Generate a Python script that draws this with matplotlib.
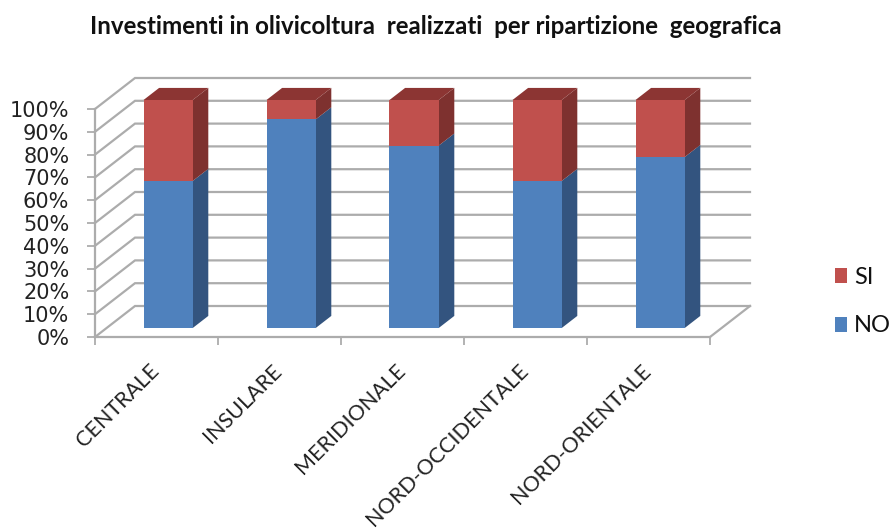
import matplotlib
matplotlib.use('Agg')
import matplotlib.pyplot as plt
from matplotlib.patches import Polygon
from matplotlib.transforms import ScaledTranslation

CATEGORIES = ['CENTRALE', 'INSULARE', 'MERIDIONALE', 'NORD-OCCIDENTALE', 'NORD-ORIENTALE']
NO_VALUES = [64.5, 91.5, 80, 64.5, 75]
SI_VALUES = [35.5, 8.5, 20, 35.5, 25]
Y_TICKS = [0, 10, 20, 30, 40, 50, 60, 70, 80, 90, 100]
TITLE = 'Investimenti in olivicoltura  realizzati  per ripartizione  geografica'

# colours for the front, side and top faces of each stack
BLUE = ('#4f81bd', '#33547f', '#3a5f8e')
RED = ('#c0504d', '#7e312f', '#8c3533')
GRID = '#acacac'

# fake 3D: a point at depth d (0 front, 1 back) is sheared by this much
DEPTH_X = 40 / 123
DEPTH_Y = 31 / 228 * 100
BAR_WIDTH = 0.4
BAR_D0, BAR_D1 = 0.29, 0.68


def project(x, y, d):
    return (x + d * DEPTH_X, y + d * DEPTH_Y)


def draw_segment(ax, x, bottom, top, colours, with_top=False):
    '''
    Draws one piece of a stacked bar as a sheared box.
    '''
    left, right = x - BAR_WIDTH / 2, x + BAR_WIDTH / 2
    # side first, then front so the front edge stays on top
    side = [project(right, bottom, BAR_D0), project(right, top, BAR_D0),
            project(right, top, BAR_D1), project(right, bottom, BAR_D1)]
    ax.add_patch(Polygon(side, facecolor=colours[1], edgecolor='none', zorder=3, clip_on=False))
    front = [project(left, bottom, BAR_D0), project(right, bottom, BAR_D0),
             project(right, top, BAR_D0), project(left, top, BAR_D0)]
    ax.add_patch(Polygon(front, facecolor=colours[0], edgecolor='none', zorder=4, clip_on=False))
    if with_top:
        lid = [project(left, top, BAR_D0), project(right, top, BAR_D0),
               project(right, top, BAR_D1), project(left, top, BAR_D1)]
        ax.add_patch(Polygon(lid, facecolor=colours[2], edgecolor='none', zorder=3, clip_on=False))


fig = plt.figure(figsize=(8.9, 5.29), dpi=100)
ax = fig.add_axes([95 / 890, 1 - 337 / 529, 615 / 890, 228 / 529])
ax.set_xlim(0, len(CATEGORIES))
ax.set_ylim(0, 100)

# walls and floor
for value in Y_TICKS:
    x0, y0 = project(0, value, 0)
    x1, y1 = project(0, value, 1)
    x2, y2 = project(len(CATEGORIES), value, 1)
    ax.plot([x0, x1, x2], [y0, y1, y2], color=GRID, lw=1.6, zorder=1, clip_on=False,
            solid_joinstyle='miter')
x0, y0 = project(len(CATEGORIES), 0, 0)
x1, y1 = project(len(CATEGORIES), 0, 1)
ax.plot([x0, x1], [y0, y1], color=GRID, lw=1.6, zorder=1, clip_on=False)

for index, (no_value, si_value) in enumerate(zip(NO_VALUES, SI_VALUES)):
    center = index + 0.5
    draw_segment(ax, center, 0, no_value, BLUE)
    draw_segment(ax, center, no_value, no_value + si_value, RED, with_top=True)

for name in ('top', 'right'):
    ax.spines[name].set_visible(False)
for name in ('left', 'bottom'):
    ax.spines[name].set_color(GRID)
    ax.spines[name].set_linewidth(1.6)

ax.set_yticks(Y_TICKS)
ax.set_yticklabels([f'{value}%' for value in Y_TICKS], fontsize=15, color='#222222',
                   fontfamily='DejaVu Sans')
ax.tick_params(axis='y', length=5.5, width=1.3, color=GRID, pad=13)

# ticks sit between categories, labels under the slot centres
ax.set_xticks(range(len(CATEGORIES) + 1))
ax.set_xticklabels([])
ax.tick_params(axis='x', which='major', length=6, width=1.3, color=GRID)
ax.set_xticks([i + 0.5 for i in range(len(CATEGORIES))], minor=True)
ax.set_xticklabels(CATEGORIES, minor=True, rotation=45, ha='right', rotation_mode='anchor',
                   fontsize=15.5, fontfamily='Lato', color='#222222')
ax.tick_params(axis='x', which='minor', length=0, pad=6)

# pull the slanted labels left and down from their slot centres
shift = ScaledTranslation(-0.075, -0.15, fig.dpi_scale_trans)
for label in ax.get_xticklabels(minor=True):
    label.set_transform(label.get_transform() + shift)

fig.text(436 / 890, 1 - 26 / 529, TITLE, ha='center', va='center', fontsize=17.4,
         fontweight='bold', fontfamily='Lato', color='#111111')

# legend, SI above NO
legend_items = [('SI', RED[0], 275.5, 277), ('NO', BLUE[0], 324.5, 326)]
for label, colour, box_y, text_y in legend_items:
    fig.patches.append(plt.Rectangle((835 / 890, 1 - (box_y + 7.5) / 529), 12 / 890, 15 / 529,
                                     transform=fig.transFigure, facecolor=colour, edgecolor='none'))
    fig.text(854 / 890, 1 - text_y / 529, label, ha='left', va='center', fontsize=17,
             fontfamily='Lato', color='#111111')

fig.savefig('out.png', dpi=100)
